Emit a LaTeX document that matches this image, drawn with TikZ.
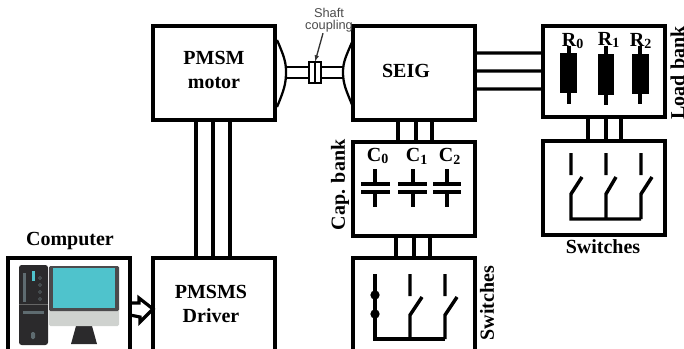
\documentclass[tikz,border=0pt]{standalone}
\usepackage{fontspec}
\setmainfont{Liberation Serif}
\newfontfamily\shaftfont{Liberation Sans}
\usetikzlibrary{arrows.meta, positioning, calc}

\definecolor{screenteal}{HTML}{4FC3CC}
\definecolor{casedark}{HTML}{2B2A2C}
\definecolor{casegray}{HTML}{5E6B70}
\definecolor{chingray}{HTML}{CFD2CF}

\begin{document}
\begin{tikzpicture}[
  x=0.75pt, y=-0.75pt,
  >=Latex,
  unit/.style={draw, line width=2.4pt, outer sep=0pt, minimum width=91.5pt, minimum height=70.5pt, inner sep=0pt, align=center},
  tall/.style={unit, minimum height=76.5pt},
  lbl/.style={font=\bfseries\fontsize{15}{18.5}\selectfont, align=center, inner sep=0pt},
  wire/.style={line width=2.4pt},
  arcwire/.style={line width=1.7pt},
  thinwire/.style={line width=1pt},
  plate/.style={line width=2.6pt},
  dotnode/.style={circle, fill=black, minimum size=7pt, inner sep=0pt}
]
\clip (0,0) rectangle (684,349);

% main blocks
\node[unit] (motor) at (214,73) {};
\node[unit, right=58.5pt of motor] (seig) {};
\node[unit, right=51pt of seig, yshift=1.1pt, minimum height=68.25pt] (load) {};
\node[unit, below=18pt of load] (swright) {};
\node[unit, below=16.5pt of seig] (cap) {};
\node[tall, below=16.5pt of cap] (swleft) {};
\node[tall, below=103.5pt of motor] (driver) {};
\node[tall, left=17.25pt of driver] (computer) {};

% block texts
\node[lbl] (motortext) at ($(motor)+(0,-3)$) {PMSM\\motor};
\node[lbl] (seigtext) at ($(seig)+(-8,-2)$) {SEIG};
\node[lbl] (drivertext) at ($(driver)+(-3,-5)$) {PMSMS\\Driver};
\node[lbl] (comptext) at (70,241) {Computer};
\node[lbl] (swrighttext) at (603,247) {Switches};
\node[lbl, rotate=90] (caplabel) at (340,185) {Cap. bank};
\node[lbl, rotate=90] (swleftlabel) at (487,303) {Switches};
\node[lbl, rotate=90] (loadlabel) at (677.5,73) {Load bank};

% triple connections
\draw[wire] ($(motor.south)+(-18,0)$) -- ($(driver.north)+(-18,0)$);
\draw[wire] ($(motor.south)+(-1,0)$) -- ($(driver.north)+(-1,0)$);
\draw[wire] ($(motor.south)+(16,0)$) -- ($(driver.north)+(16,0)$);
\draw[wire] ($(seig.south)+(-16,0)$) -- ($(cap.north)+(-16,0)$);
\draw[wire] ($(seig.south)+(2,0)$) -- ($(cap.north)+(2,0)$);
\draw[wire] ($(seig.south)+(18,0)$) -- ($(cap.north)+(18,0)$);
\draw[wire] ($(cap.south)+(-18,0)$) -- ($(swleft.north)+(-18,0)$);
\draw[wire] ($(cap.south)+(0,0)$) -- ($(swleft.north)+(0,0)$);
\draw[wire] ($(cap.south)+(16,0)$) -- ($(swleft.north)+(16,0)$);
\draw[wire] ($(load.south)+(-16,0)$) -- ($(swright.north)+(-16,0)$);
\draw[wire] ($(load.south)+(2,0)$) -- ($(swright.north)+(2,0)$);
\draw[wire] ($(load.south)+(17,0)$) -- ($(swright.north)+(17,0)$);
\draw[wire] ($(seig.east)+(0,-20)$) -- ($(load.west)+(0,-18.5)$);
\draw[wire] ($(seig.east)+(0,-2)$) -- ($(load.west)+(0,-0.5)$);
\draw[wire] ($(seig.east)+(0,16)$) -- ($(load.west)+(0,17.5)$);

% shaft and coupling
\draw[arcwire] (277,40) .. controls (284,56) and (286,62) .. (286,72) .. controls (286,84) and (284,90) .. (277,107);
\draw[arcwire] (353,40) .. controls (346,56) and (343,62) .. (343,72) .. controls (343,84) and (346,90) .. (353,107);
\node[draw, thinwire, minimum width=9pt, minimum height=15.75pt, inner sep=0pt, outer sep=0pt] (coupling) at (315,72.5) {};
\draw[thinwire] (286,67) -- (coupling.west |- 0,67);
\draw[thinwire] (286,78) -- (coupling.west |- 0,78);
\draw[thinwire] (coupling.east |- 0,67) -- (343,67);
\draw[thinwire] (coupling.east |- 0,78) -- (343,78);
\draw[thinwire] (coupling.north) -- (coupling.south);
\node[font=\shaftfont\fontsize{9.6}{9}\selectfont, text=black!70, align=center, inner sep=0pt] (shafttext) at (329,20) {Shaft\\coupling};
\draw[thinwire, black!80, -{Latex[length=5pt,width=3.5pt]}] ($(shafttext.south)+(-6,1)$) -- (coupling.north);

% resistors
\node[lbl] (r0text) at (573,41) {R$_{\mathbf{0}}$};
\node[lbl] (r1text) at (609,40) {R$_{\mathbf{1}}$};
\node[lbl] (r2text) at (641,41) {R$_{\mathbf{2}}$};
\draw[plate] (569,46) -- (569,104);
\fill (560,53) rectangle (577,93);
\draw[plate] (606,46) -- (606,105);
\fill (598,54) rectangle (614,95);
\draw[plate] (640,46) -- (640,104);
\fill (632,54) rectangle (649,94);

% capacitors
\node[lbl] (c0text) at (378,156) {C$_{\mathbf{0}}$};
\node[lbl] (c1text) at (417,156) {C$_{\mathbf{1}}$};
\node[lbl] (c2text) at (450,156) {C$_{\mathbf{2}}$};
\draw[plate] (375,169) -- (375,184) (361,184) -- (390,184) (361,192) -- (390,192) (375,192) -- (375,207);
\draw[plate] (413,169) -- (413,184) (398,184) -- (427,184) (398,192) -- (427,192) (413,192) -- (413,207);
\draw[plate] (447,169) -- (447,184) (433,184) -- (461,184) (433,192) -- (461,192) (447,192) -- (447,207);

% right switches
\draw[plate] (571,153) -- (571,175) (582,177) -- (571,194) -- (571,219) -- (641,219);
\draw[plate] (606,153) -- (606,175) (616,177) -- (606,194) -- (606,219);
\draw[plate] (641,153) -- (641,175) (652,177) -- (641,194) -- (641,219);

% left switches
\draw[plate] (375,274) -- (375,339) -- (445,339);
\node[dotnode] (dotup) at (375,295) {};
\node[dotnode] (dotdown) at (375,314) {};
\draw[plate] (410,274) -- (410,296) (422,297) -- (410,315) -- (410,339);
\draw[plate] (445,274) -- (445,296) (457,297) -- (445,315) -- (445,339);

% computer icon
\fill[casedark, rounded corners=2pt] (19,265) rectangle (48,345);
\fill[casegray] (23,273) rectangle (26,302);
\fill[screenteal] (32,271) rectangle (35,281);
\draw[casegray, line width=0.4pt] (40,278) circle (1.4) (40,285) circle (1.4) (40,292) circle (1.4) (40,299) circle (1.4);
\draw[black!60, line width=0.5pt] (19,304) -- (48,304);
\fill[casegray] (23,311) rectangle (44,314);
\fill[casegray, rounded corners=1pt] (31,332) rectangle (35,339);
\fill[casedark] (76,326) -- (92,326) -- (97,344) -- (71,344) -- cycle;
\fill[chingray, rounded corners=1pt] (49,305) rectangle (119,326);
\fill[casedark!85, rounded corners=1pt] (49,266) rectangle (119,311);
\fill[screenteal] (53,268) rectangle (115,308);

% arrow from computer to driver
\draw[wire, line join=miter] ($(computer.east)+(0,-6)$) -- ++(9,0) -- ++(0,-5) -- (driver.west) -- ++(-13,13) -- ++(0,-5) -- ($(computer.east)+(0,6)$);
\end{tikzpicture}
\end{document}
